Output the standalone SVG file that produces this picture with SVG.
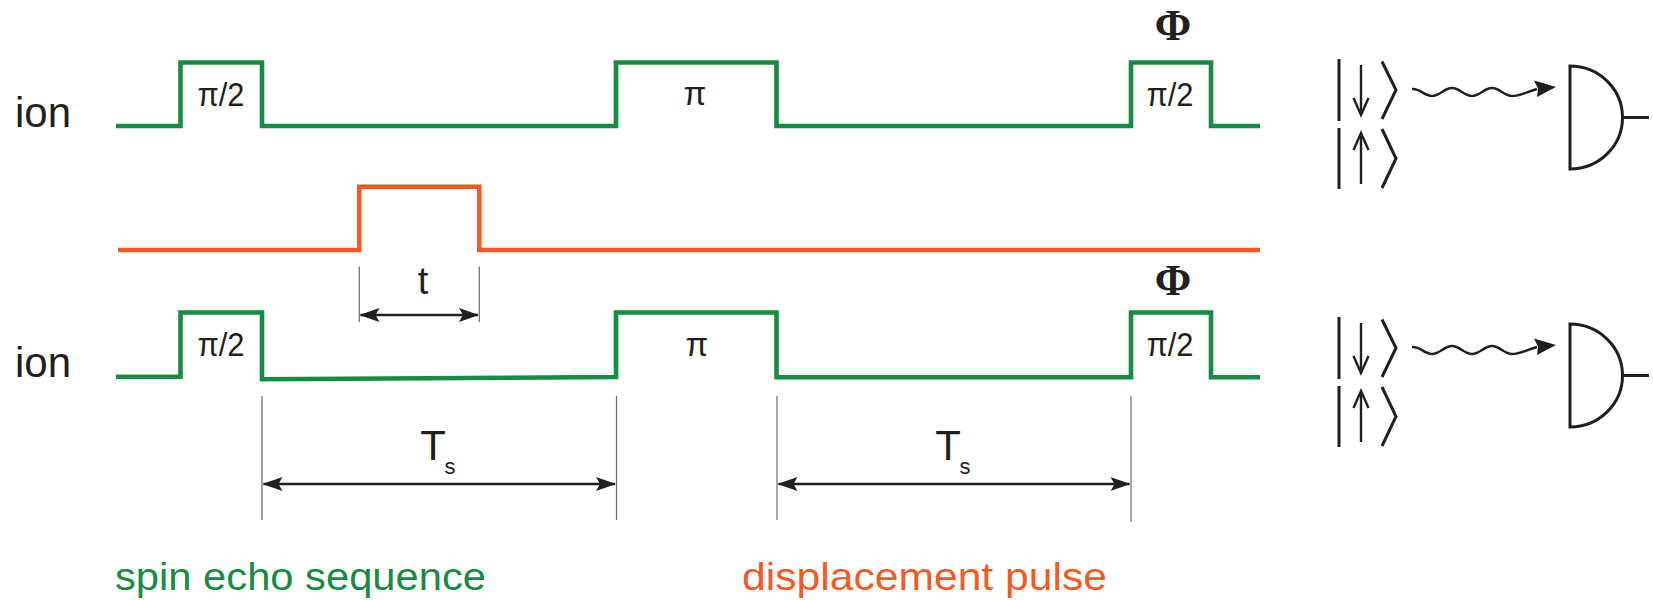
<svg xmlns="http://www.w3.org/2000/svg" width="1653" height="600" viewBox="0 0 1653 600">
<style>
  .trace{fill:none;stroke-width:4.6;stroke-linejoin:miter;stroke-linecap:butt}
  .green{stroke:#178a43}
  .red{stroke:#f15a29}
  .lbl{font-family:"Liberation Sans",Arial,sans-serif;fill:#231f20}
  .phi{font-family:"Liberation Serif","Times New Roman",serif;fill:#231f20;font-size:44px;font-weight:bold;text-anchor:middle}
  .tick{stroke:#6d6e71;stroke-width:1.2}
  .dim{stroke:#231f20;stroke-width:2.4;fill:none}
  .sym{stroke:#231f20;stroke-width:3;fill:none;stroke-linecap:butt;stroke-linejoin:miter}
  .thin{stroke:#231f20;stroke-width:2.4;fill:none}
</style>
<defs>
  <marker id="ah" viewBox="0 0 20 14" refX="19" refY="7" markerWidth="20" markerHeight="14" markerUnits="userSpaceOnUse" orient="auto-start-reverse">
    <path d="M0,0 L20,7 L0,14 L4,7 Z" fill="#231f20"/>
  </marker>
  <g id="kets">
    <line class="sym" x1="1339" y1="59" x2="1339" y2="121"/>
    <line class="thin" x1="1361" y1="65" x2="1361" y2="114"/>
    <polyline class="thin" points="1353.5,98 1361,115 1368.5,98"/>
    <polyline class="sym" points="1382,61.5 1396,90 1382,119"/>
    <line class="sym" x1="1339" y1="128" x2="1339" y2="189"/>
    <line class="thin" x1="1361" y1="134" x2="1361" y2="184"/>
    <polyline class="thin" points="1353.5,150 1361,133 1368.5,150"/>
    <polyline class="sym" points="1382,129 1396,158.5 1382,188"/>
  </g>
  <g id="photon">
    <path class="thin" d="M1412,89 C1420,88 1424,96 1432,96 S1444,88 1452,88 S1464,96 1472,96 S1484,88 1492,88 S1504,96 1512,96 S1526,92 1537,89"/>
    <path d="M1556,87 L1534,80.5 L1538,88.5 L1537,97 Z" fill="#231f20"/>
  </g>
  <g id="detector">
    <path class="sym" d="M1570,66 L1570,169 A52.5,51.5 0 0 0 1570,66 Z"/>
    <line class="sym" x1="1622.5" y1="117.5" x2="1649" y2="117.5"/>
  </g>
</defs>

<g id="labels-ion">
  <text class="lbl" x="15" y="126.7" font-size="42">ion</text>
  <text class="lbl" x="15" y="377" font-size="42">ion</text>
</g>

<g id="trace-top">
  <path class="trace green" d="M116,126 H180.5 V62.5 H262 V126 H616 V62.5 H776.5 V126 H1131 V62.5 H1211 V126 H1260"/>
  <text class="lbl" x="221" y="106" font-size="33" text-anchor="middle" textLength="47" lengthAdjust="spacingAndGlyphs">π/2</text>
  <text class="lbl" x="695" y="105" font-size="33" text-anchor="middle">π</text>
  <text class="lbl" x="1170" y="106" font-size="33" text-anchor="middle" textLength="47" lengthAdjust="spacingAndGlyphs">π/2</text>
  <text class="phi" x="1173" y="40">Φ</text>
</g>

<g id="trace-displacement">
  <path class="trace red" d="M118,250 H359.3 V186.7 H479.3 V250 H1260"/>
</g>

<g id="trace-bottom">
  <path class="trace green" d="M116,376.7 H180.5 V312.5 H262 V379.3 L616,377 V312.5 H776.5 V377.3 H1131 V312.5 H1211 V377.3 H1260"/>
  <text class="lbl" x="221" y="356" font-size="33" text-anchor="middle" textLength="47" lengthAdjust="spacingAndGlyphs">π/2</text>
  <text class="lbl" x="697" y="356" font-size="33" text-anchor="middle">π</text>
  <text class="lbl" x="1170" y="356" font-size="33" text-anchor="middle" textLength="47" lengthAdjust="spacingAndGlyphs">π/2</text>
  <text class="phi" x="1173" y="295">Φ</text>
</g>

<g id="connectors">
  <line class="tick" x1="359.3" y1="266.5" x2="359.3" y2="322"/>
  <line class="tick" x1="479.3" y1="266.5" x2="479.3" y2="322"/>
  <line class="dim" x1="360.5" y1="315" x2="478" y2="315" marker-start="url(#ah)" marker-end="url(#ah)"/>

  <line class="tick" x1="262" y1="396" x2="262" y2="520"/>
  <line class="tick" x1="616.5" y1="396" x2="616.5" y2="520"/>
  <line class="tick" x1="777" y1="396" x2="777" y2="520"/>
  <line class="tick" x1="1131" y1="396" x2="1131" y2="522"/>
  <line class="dim" x1="263.5" y1="484" x2="615" y2="484" marker-start="url(#ah)" marker-end="url(#ah)"/>
  <line class="dim" x1="778.5" y1="484" x2="1129.5" y2="484" marker-start="url(#ah)" marker-end="url(#ah)"/>
</g>

<g id="dim-labels">
  <text class="lbl" x="423" y="294" font-size="38" text-anchor="middle">t</text>
  <text class="lbl" x="433" y="460" font-size="42" text-anchor="middle">T</text>
  <text class="lbl" x="450" y="474" font-size="22" text-anchor="middle">s</text>
  <text class="lbl" x="948" y="460" font-size="42" text-anchor="middle">T</text>
  <text class="lbl" x="965" y="474" font-size="22" text-anchor="middle">s</text>
</g>

<g id="readout-top">
  <use href="#kets"/>
  <use href="#photon"/>
  <use href="#detector"/>
</g>
<g id="readout-bottom" transform="translate(0,258)">
  <use href="#kets"/>
  <use href="#photon"/>
  <use href="#detector"/>
</g>

<g id="legend">
  <text class="lbl" x="115" y="590" font-size="39" style="fill:#178a43" textLength="371" lengthAdjust="spacingAndGlyphs">spin echo sequence</text>
  <text class="lbl" x="742" y="590" font-size="39" style="fill:#f15a29" textLength="365" lengthAdjust="spacingAndGlyphs">displacement pulse</text>
</g>
</svg>
